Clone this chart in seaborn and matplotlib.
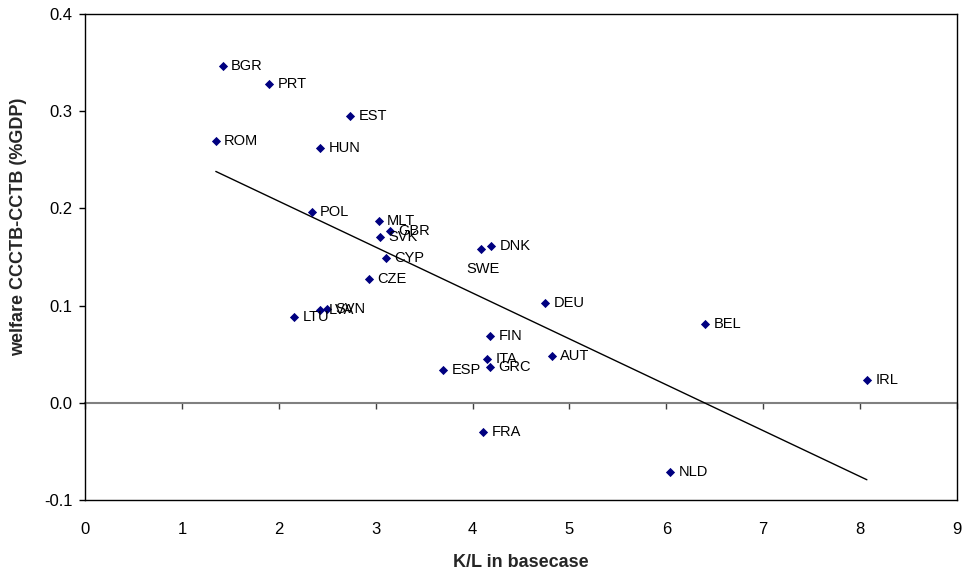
import numpy as np
import pandas as pd
import matplotlib
matplotlib.use("Agg")
import matplotlib.pyplot as plt
import seaborn as sns

# Country codes, capital-labour ratio in the base case and welfare effect
countries = ["BGR", "PRT", "EST", "ROM", "HUN", "POL", "MLT", "GBR", "SVK", "CYP",
             "CZE", "LVA", "SVN", "LTU", "SWE", "DNK", "DEU", "FIN", "ITA", "GRC",
             "ESP", "AUT", "BEL", "IRL", "FRA", "NLD"]
kl_ratio = [1.42, 1.90, 2.74, 1.35, 2.43, 2.34, 3.03, 3.15, 3.04, 3.11,
            2.93, 2.43, 2.50, 2.16, 4.09, 4.19, 4.75, 4.18, 4.15, 4.18,
            3.70, 4.82, 6.40, 8.07, 4.11, 6.04]
welfare = [0.347, 0.328, 0.295, 0.269, 0.262, 0.196, 0.187, 0.177, 0.171, 0.149,
           0.127, 0.095, 0.097, 0.088, 0.158, 0.161, 0.103, 0.069, 0.045, 0.037,
           0.034, 0.048, 0.081, 0.023, -0.030, -0.071]

x_ticks = [0, 1, 2, 3, 4, 5, 6, 7, 8, 9]
y_ticks = [-0.1, 0.0, 0.1, 0.2, 0.3, 0.4]

df = pd.DataFrame({"country": countries, "kl": kl_ratio, "welfare": welfare})

sns.set_theme(style="white")
plt.rcParams["font.family"] = ["Liberation Sans", "DejaVu Sans"]

fig = plt.figure(figsize=(9.63, 5.76), dpi=100)
ax = fig.add_axes([85 / 963, 1 - 500 / 576, 872 / 963, 486 / 576])

sns.scatterplot(data=df, x="kl", y="welfare", marker="D", s=22,
                color="#000080", edgecolor="#000080", linewidth=0, ax=ax, zorder=3)

# Linear trend over the observed range
coef = np.polyfit(df["kl"], df["welfare"], 1)
xs = np.array([df["kl"].min(), df["kl"].max()])
ax.plot(xs, np.polyval(coef, xs), color="black", lw=1.0, zorder=2)

# Point labels
for c, xv, yv in zip(df["country"], df["kl"], df["welfare"]):
    if c == "SWE":
        ax.annotate(c, (xv, yv), xytext=(1, -14), textcoords="offset points",
                    ha="center", va="center", fontsize=10.5, color="black")
    else:
        ax.annotate(c, (xv, yv), xytext=(6, 0), textcoords="offset points",
                    ha="left", va="center", fontsize=10.5, color="black")

ax.set_xlim(0, 9)
ax.set_ylim(-0.1, 0.4)
ax.set_xticks(x_ticks)
ax.set_yticks(y_ticks)
ax.set_yticklabels([f"{v:.1f}" for v in y_ticks])

for side in ["left", "right", "top", "bottom"]:
    ax.spines[side].set_visible(True)
    ax.spines[side].set_color("black")
    ax.spines[side].set_linewidth(1.0)

ax.tick_params(axis="x", length=0, pad=16, labelsize=12, colors="black")
ax.tick_params(axis="y", direction="out", length=4, width=1, pad=5,
               labelsize=12, colors="black", left=True)

# Horizontal axis drawn through zero with its tick marks
zero_axis = ax.secondary_xaxis(0.2)
zero_axis.set_xticks(x_ticks)
zero_axis.spines["bottom"].set_color("#808080")
zero_axis.spines["bottom"].set_linewidth(1.5)
zero_axis.tick_params(axis="x", direction="out", length=4, width=1,
                      color="#404040", labelbottom=False)

ax.set_xlabel("K/L in basecase", fontsize=13, fontweight="bold", labelpad=12)
ax.set_ylabel("welfare CCCTB-CCTB (%GDP)", fontsize=13, fontweight="bold")
ax.yaxis.set_label_coords(-0.066, 0.562)

fig.savefig("out.png", dpi=100)
